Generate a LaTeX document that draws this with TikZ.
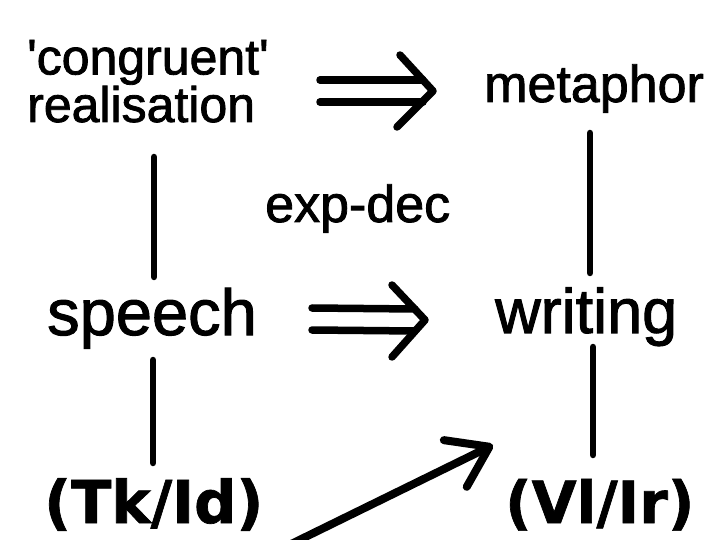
\documentclass[tikz,border=0pt]{standalone}
\usepackage{fontspec}
\setmainfont{Liberation Sans}[FakeBold=1.6, Ligatures=TeXOff]
\newfontfamily\labfont{DejaVu Sans Bold}[FakeBold=1.2]
\usetikzlibrary{arrows.meta}
\begin{document}
\begin{tikzpicture}[x=1pt,y=-1pt,
  lab/.style={inner sep=0pt, anchor=base west},
  link/.style={line width=6.5pt, line cap=round},
  imp/.style={line width=7.5pt, line cap=round, line join=round},
  diag/.style={line width=8pt, line cap=round, -{Straight Barb[length=38pt,width=52pt,round]}}]
\useasboundingbox[fill=white] (0,0) rectangle (710,540);

% texts
\node[lab, align=left, font=\fontsize{50}{46}\selectfont] (cr) at (27,122) {'congruent'\\realisation};
\node[lab, font=\fontsize{52}{52}\selectfont] (met) at (484,102) {metaphor};
\node[lab, font=\fontsize{52}{52}\selectfont] (exp) at (265,222) {exp-dec};
\node[lab, font=\fontsize{65}{65}\selectfont] (sp) at (47,335) {speech};
\node[lab, font=\fontsize{63}{63}\selectfont] (wr) at (495,333) {writing};
\node[lab, font=\labfont\fontsize{59}{59}\selectfont] (tk) at (44,523) {(Tk/Id)};
\node[lab, font=\labfont\fontsize{58}{58}\selectfont] (vl) at (505,523) {(Vl/Ir)};

% vertical links
\coordinate (l1t) at (154,157); \coordinate (l1b) at (154,277);
\coordinate (r1t) at (590,133); \coordinate (r1b) at (590,273);
\coordinate (l2t) at (153,360); \coordinate (l2b) at (153,463);
\coordinate (r2t) at (593,347); \coordinate (r2b) at (593,455);
\draw[link] (l1t) -- (l1b);
\draw[link] (r1t) -- (r1b);
\draw[link] (l2t) -- (l2b);
\draw[link] (r2t) -- (r2b);

% double arrows
\coordinate (i1s) at (320,91); \coordinate (i1e) at (433,91);
\draw[imp] ([yshift=11pt]i1s) -- ([xshift=-10pt,yshift=11pt]i1e);
\draw[imp] ([yshift=-11pt]i1s) -- ([xshift=-10pt,yshift=-11pt]i1e);
\draw[imp] ([xshift=-33pt,yshift=36pt]i1e) -- (i1e) -- ([xshift=-36pt,yshift=-36pt]i1e);

\coordinate (i2s) at (312,319); \coordinate (i2e) at (425,320);
\draw[imp] ([yshift=11pt]i2s) -- ([xshift=-10pt,yshift=11pt]i2e);
\draw[imp] ([yshift=-11pt]i2s) -- ([xshift=-10pt,yshift=-11pt]i2e);
\draw[imp] ([xshift=-33pt,yshift=35pt]i2e) -- (i2e) -- ([xshift=-33pt,yshift=-37pt]i2e);

% diagonal arrow
\coordinate (ds) at (283,548); \coordinate (de) at (493,445);
\draw[diag] (ds) -- (de);
\end{tikzpicture}
\end{document}
